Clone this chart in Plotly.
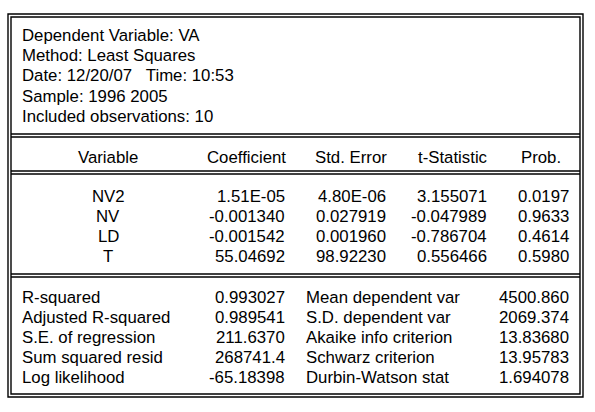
import plotly.graph_objects as go

# EViews least squares output for VA, 1996-2005

header_lines = [
    "Dependent Variable: VA",
    "Method: Least Squares",
    "Date: 12/20/07   Time: 10:53",
    "Sample: 1996 2005",
    "Included observations: 10",
]

col_names = ["Variable", "Coefficient", "Std. Error", "t-Statistic", "Prob."]

variables = ["NV2", "NV", "LD", "T"]
coefficients = ["1.51E-05", "-0.001340", "-0.001542", "55.04692"]
std_errors = ["4.80E-06", "0.027919", "0.001960", "98.92230"]
t_stats = ["3.155071", "-0.047989", "-0.786704", "0.556466"]
probs = ["0.0197", "0.9633", "0.4614", "0.5980"]

stat_labels_left = ["R-squared", "Adjusted R-squared", "S.E. of regression",
                    "Sum squared resid", "Log likelihood"]
stat_values_left = ["0.993027", "0.989541", "211.6370", "268741.4", "-65.18398"]
stat_labels_right = ["Mean dependent var", "S.D. dependent var", "Akaike info criterion",
                     "Schwarz criterion", "Durbin-Watson stat"]
stat_values_right = ["4500.860", "2069.374", "13.83680", "13.95783", "1.694078"]

W, H = 595, 412
FONT = dict(family="Liberation Sans, Arial, sans-serif", size=16.8, color="black")

fig = go.Figure()

shapes = []
def hline(y, x0=11, x1=580):
    shapes.append(dict(type="line", x0=x0, x1=x1, y0=y, y1=y,
                       line=dict(color="black", width=1.4)))

# double frame
for (x0, y0, x1, y1) in [(8, 14, 583, 397), (11, 17, 580, 394)]:
    shapes.append(dict(type="rect", x0=x0, y0=y0, x1=x1, y1=y1,
                       line=dict(color="black", width=1.4)))
# double separators
for y in [134, 171, 274]:
    hline(y)
    hline(y + 3)

annots = []
def txt(x, y, s, anchor="left"):
    annots.append(dict(x=x, y=y, text=s, showarrow=False, xanchor=anchor,
                       yanchor="middle", font=FONT))

left_x = 20
for i, s in enumerate(header_lines):
    txt(left_x, 35 + i * 20.4, s)

# column headings: first centred, others centred over their number columns
head_x = [108, 246, 351, 452, 541]
for x, s in zip(head_x, col_names):
    txt(x, 157, s, "center")

right_edges = [287, 388, 489, 571]
for i, v in enumerate(variables):
    y = 196 + i * 20.3
    txt(108, y, v, "center")
    for x, col in zip(right_edges, [coefficients, std_errors, t_stats, probs]):
        txt(x, y, col[i], "right")

for i in range(len(stat_labels_left)):
    y = 297 + i * 20.2
    txt(left_x, y, stat_labels_left[i])
    txt(287, y, stat_values_left[i], "right")
    txt(304, y, stat_labels_right[i])
    txt(571, y, stat_values_right[i], "right")

fig.update_layout(
    width=W, height=H,
    margin=dict(l=0, r=0, t=0, b=0),
    paper_bgcolor="white", plot_bgcolor="white",
    shapes=shapes, annotations=annots,
    xaxis=dict(range=[0, W], visible=False, fixedrange=True),
    yaxis=dict(range=[H, 0], visible=False, fixedrange=True),
    showlegend=False,
)

# the page body has a default 8px margin; drop it so the table sits like the original
fig.write_html("out.html", config={"displayModeBar": False},
               post_script="document.body.style.margin='0px';")
